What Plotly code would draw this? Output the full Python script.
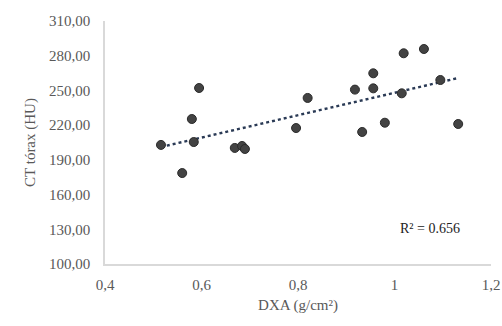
import numpy as np
import plotly.graph_objects as go

dxa = [0.516, 0.560, 0.580, 0.584, 0.595, 0.669, 0.684, 0.690, 0.796, 0.820,
       0.918, 0.933, 0.956, 0.956, 0.980, 1.015, 1.019, 1.061, 1.095, 1.132]
ct = [202.9, 178.6, 225.3, 205.4, 252.1, 200.3, 202.0, 199.4, 217.5, 243.5,
      250.7, 214.1, 264.8, 251.8, 222.1, 247.5, 282.1, 285.8, 259.0, 221.0]
r2_label = "R² = 0.656"
y_ticks = [100, 130, 160, 190, 220, 250, 280, 310]
x_ticks = [0.4, 0.6, 0.8, 1.0, 1.2]

slope, intercept = np.polyfit(dxa, ct, 1)
xl = np.array([min(dxa), max(dxa)])
yl = slope * xl + intercept

font = "Liberation Serif"
tickfont = dict(family=font, size=15, color="#595959")
fig = go.Figure()
fig.add_trace(go.Scatter(x=xl, y=yl, mode="lines",
                         line=dict(color="#2a3a55", width=2.4, dash="dot"),
                         hoverinfo="skip", showlegend=False))
fig.add_trace(go.Scatter(x=dxa, y=ct, mode="markers",
                         marker=dict(size=9, color="#434343",
                                     line=dict(color="#2b2b2b", width=1)),
                         showlegend=False))
fig.add_annotation(x=1.074, y=130.5, xref="x", yref="y", text=r2_label,
                   showarrow=False, font=dict(family=font, size=14, color="#222222"))
fig.update_layout(
    width=502, height=326,
    margin=dict(l=105, r=11, t=21, b=62),
    paper_bgcolor="white", plot_bgcolor="white",
    separators=",.",
    font=dict(family=font, size=15, color="#595959"),
    xaxis=dict(range=[0.4, 1.2], tickvals=x_ticks, showgrid=False, zeroline=False,
               showline=True, linecolor="#d9d9d9", linewidth=1.5, ticks="",
               automargin=False, tickfont=tickfont, ticklabelstandoff=6,
               title=dict(text="DXA (g/cm²)", font=dict(family=font, size=15, color="#595959"),
                          standoff=8)),
    yaxis=dict(range=[100, 310], tickvals=y_ticks, tickformat=".2f", showgrid=False,
               zeroline=False, showline=True, linecolor="#d9d9d9", linewidth=1.5, ticks="",
               automargin=False, tickfont=tickfont, ticklabelstandoff=10,
               title=dict(text="CT tórax (HU)", font=dict(family=font, size=15, color="#595959"),
                          standoff=10)),
)
fig.write_html("out.html", config={"displayModeBar": False},
               post_script="document.body.style.margin='0';document.body.style.overflow='hidden';")
